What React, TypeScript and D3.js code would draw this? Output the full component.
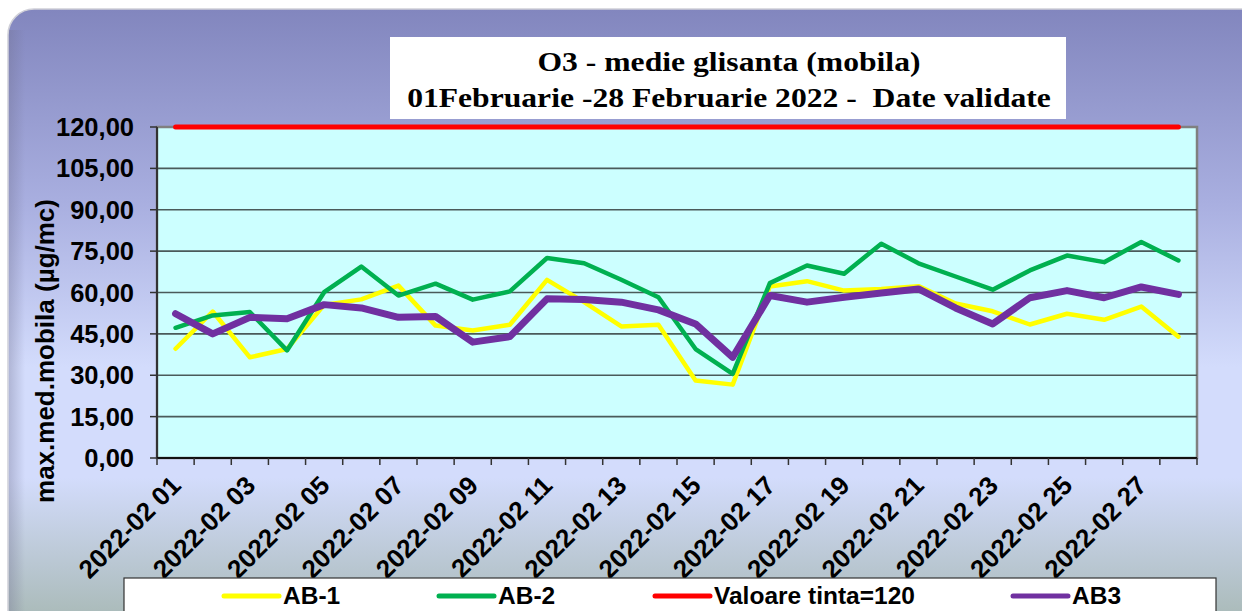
import React, { useEffect, useRef } from "react";
import * as d3 from "d3";

const days = d3.range(1, 29).map((d) => `2022-02 ${String(d).padStart(2, "0")}`);

const ab1 = [39.6, 53.1, 36.5, 39.5, 55.5, 57.5, 62.5, 48, 46.2, 48.3, 64.6, 56.5, 47.7, 48.3, 28.1, 26.6, 62.2, 64.1, 60.7, 61.3, 62.3, 56, 53.2, 48.4, 52.3, 50.1, 54.9, 44];
const ab2 = [47.2, 51.7, 52.9, 39, 60.1, 69.4, 58.9, 63.2, 57.4, 60.4, 72.5, 70.6, 64.6, 58.3, 39.5, 30.5, 63.4, 69.8, 66.8, 77.7, 70.6, 65.8, 61, 68, 73.4, 71, 78.3, 71.6];
const target = days.map(() => 120);
const ab3 = [52.3, 45, 51, 50.5, 55.6, 54.4, 51, 51.3, 42, 44, 57.7, 57.5, 56.5, 53.7, 48.6, 36.5, 58.9, 56.5, 58.3, 59.8, 61.3, 54.4, 48.6, 58.1, 60.7, 58.1, 62, 59.3];

const yTicks = [0, 15, 30, 45, 60, 75, 90, 105, 120];

const seriesList = [
  { name: "AB-1", values: ab1, color: "#ffff00", width: 4.5 },
  { name: "AB-2", values: ab2, color: "#00b050", width: 4.5 },
  { name: "Valoare tinta=120", values: target, color: "#ff0000", width: 5 },
  { name: "AB3", values: ab3, color: "#7030a0", width: 7 },
];

const W = 1242;
const H = 611;
const SANS = "'Liberation Sans', Arial, sans-serif";
const SERIF = "'Liberation Serif', 'Times New Roman', serif";

const App = () => {
  const svgRef = useRef<SVGSVGElement>(null);

  useEffect(() => {
    const svg = d3.select(svgRef.current);
    svg.selectAll("*").remove();

    const plot = { left: 157, right: 1197, top: 127, bottom: 458 };

    const defs = svg.append("defs");
    const bg = defs
      .append("linearGradient")
      .attr("id", "panelBg")
      .attr("x1", 0)
      .attr("y1", 0)
      .attr("x2", 0)
      .attr("y2", 1);
    bg.append("stop").attr("offset", "0%").attr("stop-color", "#8286be");
    bg.append("stop").attr("offset", "30%").attr("stop-color", "#a9afe0");
    bg.append("stop").attr("offset", "55%").attr("stop-color", "#d3dcfc");
    bg.append("stop").attr("offset", "72%").attr("stop-color", "#d3dcfc");
    bg.append("stop").attr("offset", "100%").attr("stop-color", "#9db0a4");

    const edge = defs
      .append("linearGradient")
      .attr("id", "leftEdge")
      .attr("x1", 0)
      .attr("y1", 0)
      .attr("x2", 1)
      .attr("y2", 0);
    edge.append("stop").attr("offset", "0%").attr("stop-color", "#707090").attr("stop-opacity", 0.35);
    edge.append("stop").attr("offset", "100%").attr("stop-color", "#707090").attr("stop-opacity", 0);

    svg.append("rect").attr("width", W).attr("height", H).attr("fill", "#ffffff");

    svg
      .append("rect")
      .attr("x", 8)
      .attr("y", 9)
      .attr("width", W + 20)
      .attr("height", H + 40)
      .attr("rx", 26)
      .attr("fill", "url(#panelBg)")
      .attr("stroke", "#d0d0d8")
      .attr("stroke-width", 1.5);

    svg
      .append("rect")
      .attr("x", 9)
      .attr("y", 30)
      .attr("width", 16)
      .attr("height", H - 30)
      .attr("fill", "url(#leftEdge)");

    // title box
    svg
      .append("rect")
      .attr("x", 390)
      .attr("y", 37)
      .attr("width", 676)
      .attr("height", 82)
      .attr("fill", "#ffffff");

    const titleLines = [
      { text: "O3 - medie glisanta (mobila)", y: 71 },
      { text: "01Februarie -28 Februarie 2022 -  Date validate", y: 107 },
    ];
    titleLines.forEach((t) => {
      svg
        .append("text")
        .attr("transform", `translate(729,${t.y}) scale(1.13,1)`)
        .attr("text-anchor", "middle")
        .style("font-family", SERIF)
        .style("font-weight", "bold")
        .style("font-size", "28px")
        .style("white-space", "pre")
        .text(t.text);
    });

    const x = d3
      .scaleBand()
      .domain(days)
      .range([plot.left, plot.right])
      .padding(0);
    const cx = (d: string) => (x(d) as number) + x.bandwidth() / 2;

    const y = d3.scaleLinear().domain([0, 120]).range([plot.bottom, plot.top]);

    // plot area
    svg
      .append("rect")
      .attr("x", plot.left)
      .attr("y", plot.top)
      .attr("width", plot.right - plot.left)
      .attr("height", plot.bottom - plot.top)
      .attr("fill", "#ccffff")
      .attr("stroke", "#808080")
      .attr("stroke-width", 2.5);

    // gridlines
    svg
      .append("g")
      .selectAll("line")
      .data(yTicks.filter((t) => t > 0 && t < 120))
      .enter()
      .append("line")
      .attr("x1", plot.left)
      .attr("x2", plot.right)
      .attr("y1", (d) => y(d))
      .attr("y2", (d) => y(d))
      .attr("stroke", "#4a5a5a")
      .attr("stroke-width", 1.6);

    // y axis
    const yAxis = svg.append("g").attr("transform", `translate(${plot.left},0)`);
    yAxis
      .append("line")
      .attr("y1", plot.top)
      .attr("y2", plot.bottom)
      .attr("stroke", "#333333")
      .attr("stroke-width", 2);
    yAxis
      .selectAll(".tick")
      .data(yTicks)
      .enter()
      .append("line")
      .attr("x1", -7)
      .attr("x2", 0)
      .attr("y1", (d) => y(d))
      .attr("y2", (d) => y(d))
      .attr("stroke", "#333333")
      .attr("stroke-width", 1.5);
    yAxis
      .selectAll(".lbl")
      .data(yTicks)
      .enter()
      .append("text")
      .attr("x", -23)
      .attr("y", (d) => y(d) + 9)
      .attr("text-anchor", "end")
      .style("font-family", SANS)
      .style("font-weight", "bold")
      .style("font-size", "25.5px")
      .text((d) => d3.format(".2f")(d).replace(".", ","));

    svg
      .append("text")
      .attr("transform", `translate(54,351) rotate(-90)`)
      .attr("text-anchor", "middle")
      .style("font-family", SANS)
      .style("font-weight", "bold")
      .style("font-size", "26px")
      .text("max.med.mobila (µg/mc)");

    // x axis
    const xAxis = svg.append("g");
    xAxis
      .append("line")
      .attr("x1", plot.left)
      .attr("x2", plot.right)
      .attr("y1", plot.bottom)
      .attr("y2", plot.bottom)
      .attr("stroke", "#111111")
      .attr("stroke-width", 2);
    const edges = days.map((d) => x(d) as number).concat([plot.right]);
    xAxis
      .selectAll(".tick")
      .data(edges)
      .enter()
      .append("line")
      .attr("x1", (d) => d)
      .attr("x2", (d) => d)
      .attr("y1", plot.bottom)
      .attr("y2", plot.bottom + 7)
      .attr("stroke", "#333333")
      .attr("stroke-width", 1.5);
    xAxis
      .selectAll(".lbl")
      .data(days.filter((_, i) => i % 2 === 0))
      .enter()
      .append("text")
      .attr("transform", (d) => `translate(${cx(d) + 7},487) rotate(-45)`)
      .attr("text-anchor", "end")
      .style("font-family", SANS)
      .style("font-weight", "bold")
      .style("font-size", "26px")
      .text((d) => d);

    // series
    const line = d3
      .line<number>()
      .x((_, i) => cx(days[i]))
      .y((d) => y(d));

    seriesList.forEach((s) => {
      svg
        .append("path")
        .datum(s.values)
        .attr("d", line)
        .attr("fill", "none")
        .attr("stroke", s.color)
        .attr("stroke-width", s.width)
        .attr("stroke-linejoin", "round")
        .attr("stroke-linecap", "round");
    });

    // legend
    const legend = svg.append("g");
    legend
      .append("rect")
      .attr("x", 124)
      .attr("y", 578)
      .attr("width", 1092)
      .attr("height", 60)
      .attr("fill", "#ffffff")
      .attr("stroke", "#333333")
      .attr("stroke-width", 1.2);

    const legendX = [224, 439, 655, 1013];
    seriesList.forEach((s, i) => {
      const lx = legendX[i];
      legend
        .append("line")
        .attr("x1", lx)
        .attr("x2", lx + 55)
        .attr("y1", 596)
        .attr("y2", 596)
        .attr("stroke", s.color)
        .attr("stroke-width", 5)
        .attr("stroke-linecap", "round");
      legend
        .append("text")
        .attr("x", lx + 59)
        .attr("y", 604)
        .style("font-family", SANS)
        .style("font-weight", "bold")
        .style("font-size", "24.5px")
        .text(s.name);
    });
  }, []);

  return (
    <svg
      ref={svgRef}
      width={W}
      height={H}
      style={{ position: "absolute", left: 0, top: 0 }}
    ></svg>
  );
};

export default App;
